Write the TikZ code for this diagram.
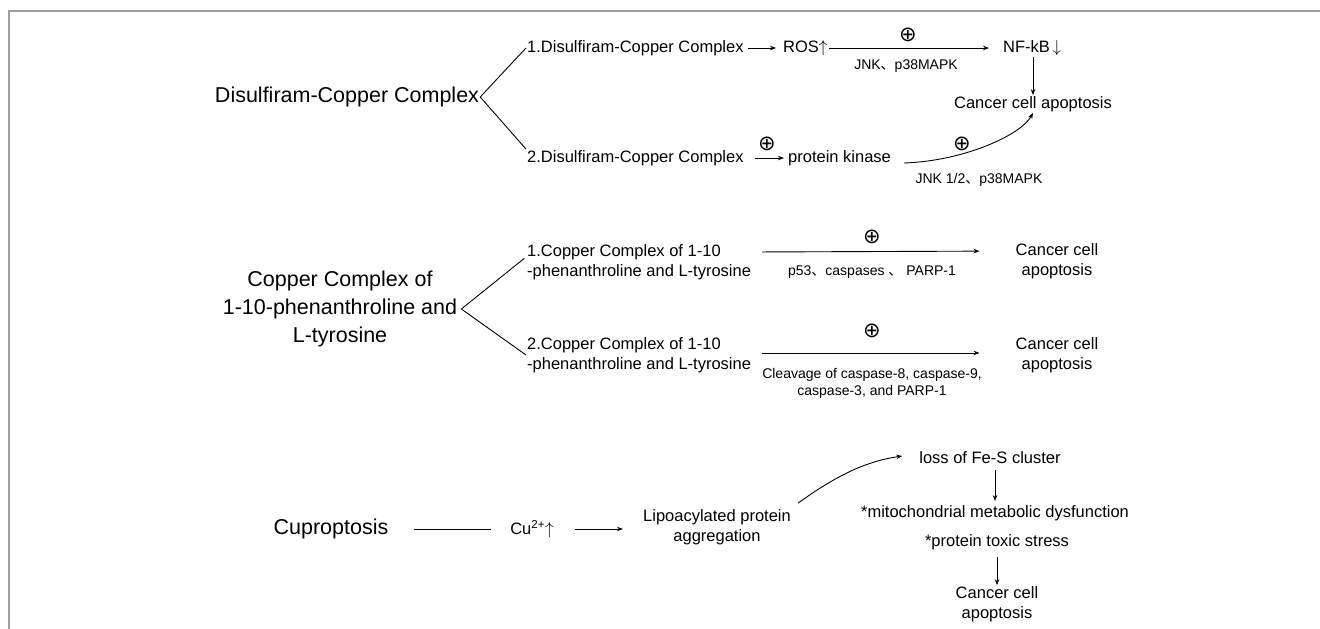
\documentclass[tikz,border=0pt]{standalone}
\usepackage{fontspec}
\setmainfont{Liberation Sans}
\newfontfamily\cjk{Noto Sans CJK SC}
\newfontfamily\symf{DejaVu Sans}
\usepackage{tikz}
\usetikzlibrary{arrows.meta}
\tikzset{
	big/.style={font=\fontsize{21.5}{28}\selectfont, inner sep=1pt, align=center},
	mid/.style={font=\fontsize{16.5}{20}\selectfont, inner sep=1pt, align=center},
	small/.style={font=\fontsize{14}{17}\selectfont, inner sep=1pt, align=center},
	plus/.style={font=\symf\fontsize{21}{21}\selectfont, inner sep=0pt},
	ln/.style={line width=0.9pt},
	arr/.style={line width=0.9pt, -{Stealth[length=6pt,width=4.5pt]}}
}

\begin{document}
\begin{tikzpicture}[x=1pt,y=-1pt]
	%%%%% START %%%%%
	\useasboundingbox (0,0) rectangle (1320,629);
	\draw[gray!75, line width=1.3pt] (9,629) -- (9,11) -- (1320,11);
	
	% disulfiram-copper
	\node[big] (dcc) at (347,97) {Disulfiram-Copper Complex};
	\node[mid, anchor=west] (dcc1) at (526,48) {1.Disulfiram-Copper Complex};
	\node[mid, anchor=west] (ros) at (782,48) {ROS$\uparrow$};
	\node[mid, anchor=west] (nfkb) at (1002,48) {NF-kB\,$\downarrow$};
	\node[mid] (apoA) at (1033,104) {Cancer cell apoptosis};
	\node[mid, anchor=west] (dcc2) at (526,158) {2.Disulfiram-Copper Complex};
	\node[mid, anchor=west] (pk) at (787,158) {protein kinase};
	\node[plus] (plA) at (908,35) {⊕};
	\node[small] (jnkA) at (906,66) {JNK{\cjk 、}p38MAPK};
	\node[plus] (plB) at (767,144) {⊕};
	\node[plus] (plC) at (962,144) {⊕};
	\node[small] (jnkB) at (979,180) {JNK 1/2{\cjk 、}p38MAPK};
	
	\draw[ln] (dcc1.west) -- (dcc.east) -- (dcc2.north west);
	\draw[arr, shorten <=3pt, shorten >=6pt] (dcc1) -- (ros);
	\draw[arr, shorten >=13pt] (ros) -- (nfkb);
	\draw[arr] (nfkb.south -| apoA.north) -- (apoA.north);
	\draw[arr, shorten <=10pt, shorten >=3pt] (dcc2) -- (pk);
	\draw[arr] ([xshift=12pt,yshift=-5pt]pk.east) .. controls +(60,-2) and +(-12,22) .. (apoA.south);
	
	% phenanthroline / tyrosine
	\node[big] (cc) at (340,309) {Copper Complex of\\1-10-phenanthroline and\\L-tyrosine};
	\node[mid, anchor=west, align=left] (cc1) at (526,262) {1.Copper Complex of 1-10\\-phenanthroline and L-tyrosine};
	\node[mid, anchor=west, align=left] (cc2) at (526,355) {2.Copper Complex of 1-10\\-phenanthroline and L-tyrosine};
	\node[mid] (apoB) at (1057,261) {Cancer cell\\apoptosis};
	\node[mid] (apoC) at (1057,355) {Cancer cell\\apoptosis};
	\node[plus] (plD) at (872,237) {⊕};
	\node[small] (p53) at (872,272) {p53{\cjk 、}caspases {\cjk 、} PARP-1};
	\node[plus] (plE) at (872,331) {⊕};
	\node[small] (clv) at (872,383) {Cleavage of caspase-8, caspase-9,\\caspase-3, and PARP-1};
	
	\draw[ln, shorten <=2pt] ([yshift=5pt]cc1.west) -- ([xshift=3pt]cc.east) -- (cc2.west);
	\draw[arr, shorten <=10pt, shorten >=35pt] ([yshift=10pt]cc1.east) -- ([yshift=10pt]apoB.west);
	\draw[arr, shorten <=10pt, shorten >=35pt] ([yshift=2pt]cc2.east) -- ([yshift=2pt]apoC.west);
	
	% cuproptosis
	\node[big] (cup) at (331,529) {Cuproptosis};
	\node[mid] (cu) at (532,529) {Cu\textsuperscript{2+}$\uparrow$};
	\node[mid] (lipo) at (717,527) {Lipoacylated protein\\aggregation};
	\node[mid] (fes) at (990,458) {loss of Fe-S cluster};
	\node[mid] (mito) at (995,513) {*mitochondrial metabolic dysfunction};
	\node[mid] (tox) at (997,542) {*protein toxic stress};
	\node[mid] (apoD) at (997,604) {Cancer cell\\apoptosis};
	
	\draw[ln, shorten <=24pt, shorten >=18pt] (cup) -- (cu);
	\draw[arr, shorten <=20pt, shorten >=19pt] (cu.east) -- (cu.east -| lipo.west);
	\draw[arr] ([xshift=6pt,yshift=5pt]lipo.north east) .. controls +(35,-25) and +(-40,6) .. ([xshift=-16pt,yshift=2pt]fes.west);
	\draw[arr, shorten <=5pt, shorten >=3pt] (fes.south -| mito.north) -- (mito.north);
	\draw[arr, shorten <=6pt] (tox.south) -- (tox.south |- apoD.north);
	
	%%%%% END %%%%%
\end{tikzpicture}
\end{document}
